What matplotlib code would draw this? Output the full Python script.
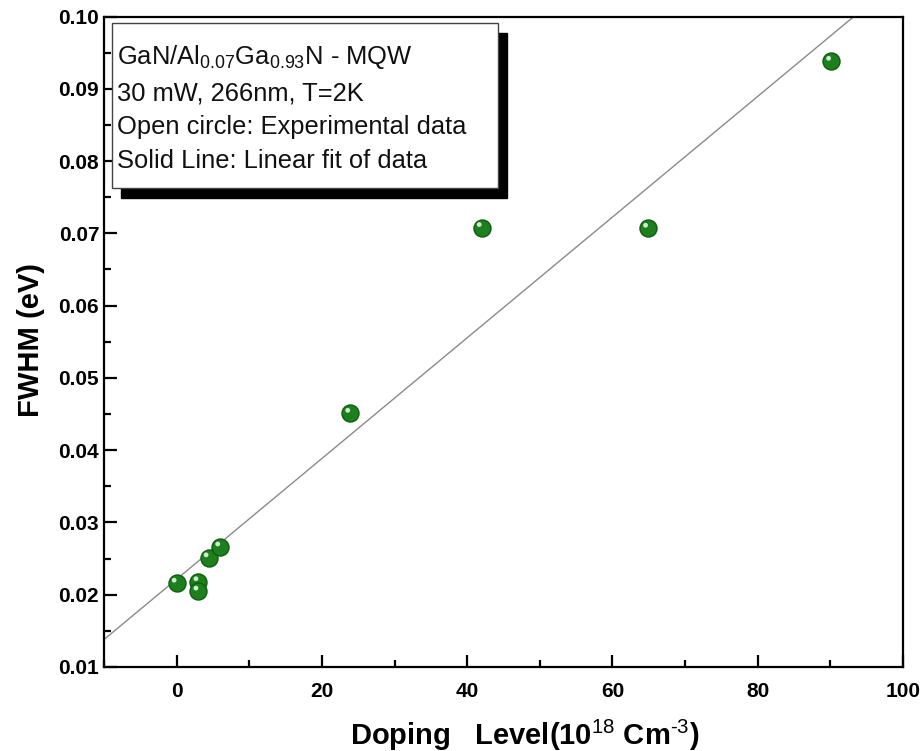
import matplotlib
matplotlib.use("Agg")
import matplotlib.pyplot as plt
import matplotlib.transforms as mtransforms
from matplotlib.patches import Rectangle
from matplotlib.ticker import MultipleLocator, FormatStrFormatter
import numpy as np

plt.rcParams['font.family'] = ['Liberation Sans', 'DejaVu Sans']
plt.rcParams['mathtext.fontset'] = 'custom'
plt.rcParams['mathtext.rm'] = 'Liberation Sans'
plt.rcParams['mathtext.it'] = 'Liberation Sans'
plt.rcParams['mathtext.bf'] = 'Liberation Sans:bold'

# Data
doping = [0, 3, 3, 4.4, 6.0, 23.9, 42.0, 64.9, 90.1]
fwhm = [0.0216, 0.0218, 0.0205, 0.0251, 0.0266, 0.0451, 0.0708, 0.0707, 0.0938]
# Linear fit line
fit_slope = 0.000835
fit_intercept = 0.02215

xlim = (-10, 100)
ylim = (0.01, 0.10)
xticks = [0, 20, 40, 60, 80, 100]
yticks = [0.01, 0.02, 0.03, 0.04, 0.05, 0.06, 0.07, 0.08, 0.09, 0.10]

info_lines = [
    r"GaN/Al$_{0.07}$Ga$_{0.93}$N - MQW",
    "30 mW, 266nm, T=2K",
    "Open circle: Experimental data",
    "Solid Line: Linear fit of data",
]

W, H = 923, 751
fig = plt.figure(figsize=(W / 100, H / 100), dpi=100)
ax_l, ax_r, ax_t, ax_b = 104, 903, 16.5, 667
ax = fig.add_axes([ax_l / W, 1 - ax_b / H, (ax_r - ax_l) / W, (ax_b - ax_t) / H])

ax.set_xlim(*xlim)
ax.set_ylim(*ylim)

# fit line
xf = np.array(xlim, dtype=float)
ax.plot(xf, fit_intercept + fit_slope * xf, color='#8a8a8a', lw=1.0, zorder=2)

# markers: sphere-like
ax.scatter(doping, fwhm, s=150, color='#1d7f1d', edgecolors='#0e5e0e',
           linewidths=1.0, zorder=3)
hl = mtransforms.offset_copy(ax.transData, fig=fig, x=-2.5, y=3, units='dots')
ax.scatter(doping, fwhm, s=12, color='#cfeacf', edgecolors='none',
           transform=hl, zorder=4)

# ticks
ax.xaxis.set_major_locator(plt.FixedLocator(xticks))
ax.xaxis.set_minor_locator(MultipleLocator(10))
ax.yaxis.set_major_locator(plt.FixedLocator(yticks))
ax.yaxis.set_minor_locator(MultipleLocator(0.005))
ax.yaxis.set_major_formatter(FormatStrFormatter('%.2f'))
ax.tick_params(which='both', direction='in', top=False, right=False, width=1.6)
ax.tick_params(which='major', length=9)
ax.tick_params(which='minor', length=5)
ax.tick_params(axis='x', which='major', pad=11)
ax.tick_params(axis='y', which='major', pad=3.5)
for lab in ax.get_xticklabels() + ax.get_yticklabels():
    lab.set_fontsize(15)
    lab.set_fontweight('bold')
for sp in ax.spines.values():
    sp.set_linewidth(1.6)

ax.set_xlabel(r"Doping   Level(10$^{18}$ Cm$^{\text{-}3}$)", fontsize=21, fontweight='bold')
ax.set_ylabel("FWHM (eV)", fontsize=21, fontweight='bold')
ax.xaxis.set_label_coords(0.527, (ax_b - 735) / (ax_b - ax_t), transform=ax.transAxes)
ax.xaxis.label.set_va('center')
ax.yaxis.set_label_coords((31 - ax_l) / (ax_r - ax_l), (ax_b - 340) / (ax_b - ax_t))
ax.yaxis.label.set_va('center')

# info box with shadow
bw = ax_r - ax_l
bh = ax_b - ax_t
bx0, bx1 = 112, 498
by0, by1 = 23, 188
def fx(px):
    return (px - ax_l) / bw
def fy(py):
    return (ax_b - py) / bh
shadow = Rectangle((fx(bx0 + 9), fy(by1 + 10)), fx(bx1) - fx(bx0), fy(by0) - fy(by1),
                   transform=ax.transAxes, facecolor='black', edgecolor='black',
                   zorder=5, clip_on=False)
box = Rectangle((fx(bx0), fy(by1)), fx(bx1) - fx(bx0), fy(by0) - fy(by1),
                transform=ax.transAxes, facecolor='white', edgecolor='#444444',
                lw=1.0, zorder=6, clip_on=False)
ax.add_patch(shadow)
ax.add_patch(box)
baselines = [64, 101, 134, 168]
for txt, b in zip(info_lines, baselines):
    ax.text(fx(117), fy(b), txt, transform=ax.transAxes, fontsize=18.4,
            va='baseline', ha='left', color='#111111', zorder=7)

fig.savefig("out.png", dpi=100)
